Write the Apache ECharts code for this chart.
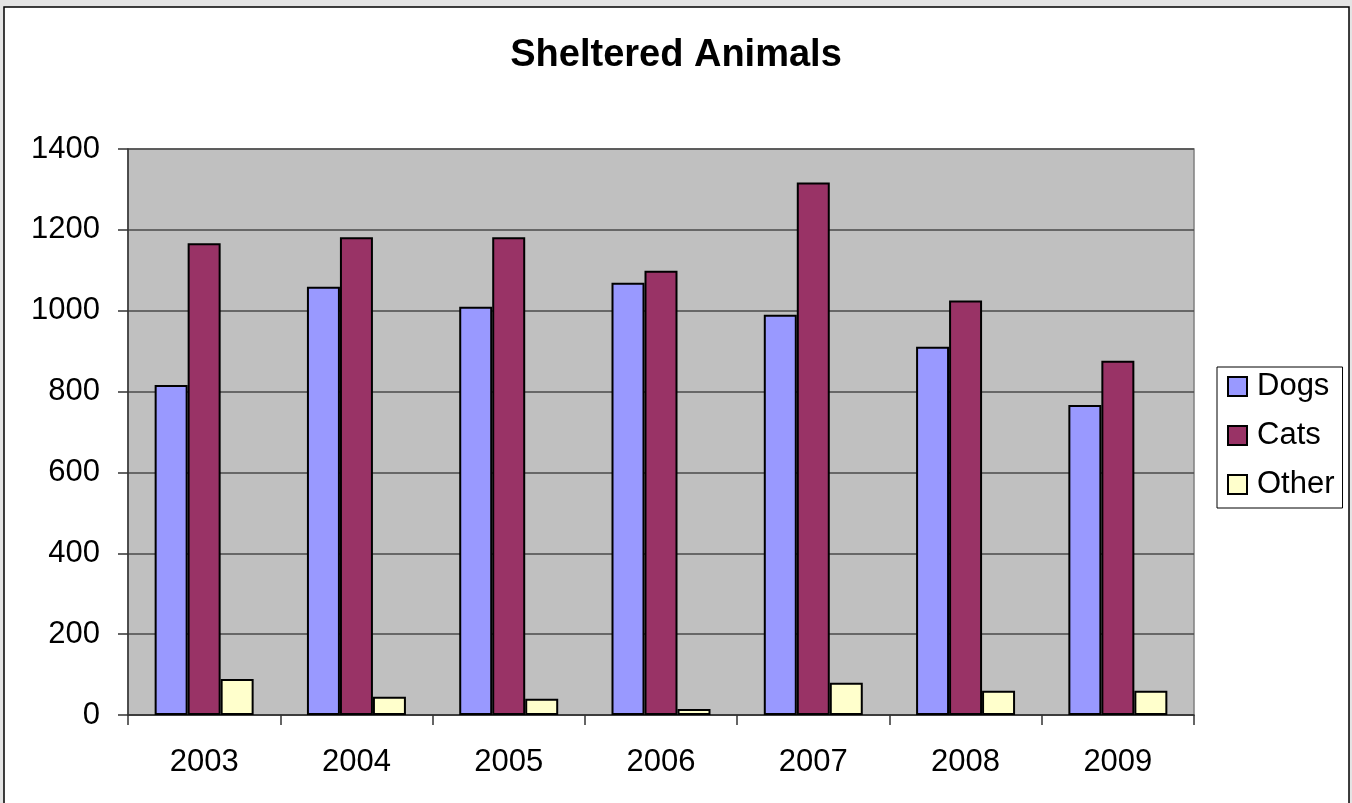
<!DOCTYPE html>
<html>
<head>
<meta charset="utf-8">
<title>Sheltered Animals</title>
<script src="https://cdn.jsdelivr.net/npm/echarts@6/dist/echarts.min.js"></script>
<style>
  html, body { margin: 0; padding: 0; background: #e4e4e4; }
  #main { width: 1352px; height: 803px; }
</style>
</head>
<body>
<div id="main"></div>
<script>
// data
const years = ['2003', '2004', '2005', '2006', '2007', '2008', '2009'];
const dogs  = [816, 1059, 1010, 1069, 990, 911, 767];
const cats  = [1167, 1182, 1182, 1099, 1317, 1025, 876];
const other = [89, 45, 40, 15, 80, 60, 60];

const FONT = '"Liberation Sans", Arial, sans-serif';

function barSeries(name, data, color) {
  return {
    name: name,
    type: 'bar',
    data: data,
    barGap: '0%',
    barCategoryGap: '35%',
    itemStyle: { color: color, borderColor: '#000', borderWidth: 2 }
  };
}

const chart = echarts.init(document.getElementById('main'));
chart.setOption({
  animation: false,
  backgroundColor: '#e4e4e4',
  textStyle: { fontFamily: FONT },
  graphic: [{
    type: 'rect',
    z: -10,
    shape: { x: 4, y: 7, width: 1345, height: 820 },
    style: { fill: '#fff', stroke: '#000', lineWidth: 1.5 }
  }],
  title: {
    text: 'Sheltered Animals',
    left: 'center',
    top: 32,
    textStyle: { fontFamily: FONT, fontSize: 38, fontWeight: 'bold', color: '#000' }
  },
  legend: {
    orient: 'vertical',
    left: 1217,
    top: 367,
    padding: [4, 8, 8, 10],
    itemGap: 18,
    itemWidth: 19,
    itemHeight: 19,
    borderColor: '#000',
    borderWidth: 1,
    backgroundColor: '#fff',
    icon: 'rect',
    textStyle: { fontFamily: FONT, fontSize: 31, color: '#000', lineHeight: 30, padding: [0, 0, 0, 5] },
    itemStyle: { borderColor: '#000', borderWidth: 2 }
  },
  grid: {
    left: 128, right: 158, top: 149, bottom: 88,
    show: true,
    backgroundColor: '#c0c0c0',
    borderColor: '#808080',
    borderWidth: 1.5
  },
  xAxis: {
    type: 'category',
    data: years,
    axisLine: { lineStyle: { color: '#333', width: 1.5 } },
    axisTick: { show: true, length: 10, lineStyle: { color: '#333', width: 1.5 } },
    axisLabel: { fontFamily: FONT, fontSize: 31, color: '#000', margin: 32 }
  },
  yAxis: {
    type: 'value',
    min: 0,
    max: 1400,
    interval: 200,
    axisLine: { show: true, lineStyle: { color: '#333', width: 1.5 } },
    axisTick: { show: true, length: 10, lineStyle: { color: '#333', width: 1.5 } },
    axisLabel: { fontFamily: FONT, fontSize: 31, color: '#000', margin: 28, formatter: function (v) { return String(v); } },
    splitLine: { lineStyle: { color: '#4a4a4a', width: 1.5 } }
  },
  series: [
    barSeries('Dogs', dogs, '#9999ff'),
    barSeries('Cats', cats, '#993366'),
    barSeries('Other', other, '#ffffcc')
  ]
});
</script>
</body>
</html>
